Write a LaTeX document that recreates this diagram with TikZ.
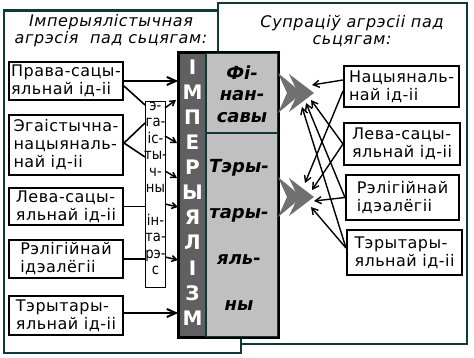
\documentclass[tikz,border=0pt]{standalone}
\usepackage{fontspec}
\setmainfont{DejaVu Sans}
\newfontfamily\boxf[LetterSpace=3]{DejaVu Sans}
\newfontfamily\titf[LetterSpace=4]{DejaVu Sans}
\newfontfamily\ibf[FakeStretch=0.88]{DejaVu Sans}
\usetikzlibrary{arrows.meta,calc}
\definecolor{frm}{RGB}{16,58,58}
\definecolor{darkcol}{RGB}{96,96,96}
\definecolor{lightcol}{RGB}{192,192,192}
\definecolor{chevcol}{RGB}{112,112,112}
\tikzset{
  frameline/.style={draw=frm, line width=2.5pt},
  lbox/.style={draw=black, line width=2pt, fill=white, inner sep=0pt, align=left,
    font=\boxf\fontsize{16pt}{18pt}\selectfont},
  ibox/.style={draw=black, line width=1pt, fill=white, inner sep=0pt},
  ibtext/.style={inner sep=0pt, align=center, font=\ibf\fontsize{15pt}{16.4pt}\selectfont},
  titletext/.style={inner sep=0pt, align=center, font=\titf\itshape\fontsize{16pt}{17pt}\selectfont},
  colletters/.style={inner sep=0pt, align=center, text=white, font=\bfseries\fontsize{20pt}{25.1pt}\selectfont},
  greytext/.style={inner sep=0pt, align=center, font=\bfseries\itshape\fontsize{18pt}{21.5pt}\selectfont},
  greytextlow/.style={inner sep=0pt, align=center, font=\bfseries\itshape\fontsize{18pt}{46pt}\selectfont},
  larr/.style={draw=black, line width=2pt, -{Straight Barb[length=9pt,width=8pt]}},
  lline/.style={draw=black, line width=1.6pt},
  sarr/.style={draw=black, line width=1.5pt, -{Straight Barb[length=5pt,width=6pt]}},
  rarr/.style={draw=black, line width=1.4pt, -{Straight Barb[length=6pt,width=7pt]}},
  chev/.style={fill=chevcol}
}
\begin{document}
\begin{tikzpicture}[x=1pt,y=-1pt]
\useasboundingbox (0,0) rectangle (474,358);
\fill[white] (0,0) rectangle (474,358);
% right frame (white filled)
\draw[frameline, fill=white] (218,3) rectangle (467,344);
% left frame on top near its lower right corner
\fill[white] (216.5,337) rectangle (239.6,345.6);
\draw[frameline] (216.7,10.5) -- (4,10.5) -- (4,353) -- (241,353) -- (241,337);

% titles
\node[titletext] (tleft) at (111,31) {Імперыялістычная\\агрэсія\ \ пад сьцягам:};
\node[titletext] (tright) at (352,31) {Супраціў агрэсіі пад\\сьцягам:};

% left boxes
\node[lbox, minimum width=114pt, minimum height=38pt] (l1) at (66,81) {Права-сацы-\\яльнай ід-ii};
\node[lbox, minimum width=114pt, minimum height=60pt] (l2) at (66,145) {Эгаістычна-\\нацыяналь-\\най ід-ii};
\node[lbox, minimum width=114pt, minimum height=37pt] (l3) at (66,206.5) {Лева-сацы-\\яльнай ід-ii};
\node[lbox, minimum width=114pt, minimum height=38pt] (l4) at (66,259) {Рэлігійнай\\ідэалёгii};
\node[lbox, minimum width=114pt, minimum height=39pt] (l5) at (66,315.5) {Тэрытары-\\яльнай ід-ii};

% right boxes
\node[lbox, minimum width=115pt, minimum height=41pt] (r1) at (401.5,86.5) {Нацыяналь-\\най ід-ii};
\node[lbox, minimum width=116pt, minimum height=42pt] (r2) at (402,144) {Лева-сацы-\\яльнай ід-ii};
\node[lbox, minimum width=113pt, minimum height=45pt] (r3) at (402.5,197.5) {Рэлігійнай\\ідэалёгii};
\node[lbox, minimum width=115pt, minimum height=45pt] (r4) at (404.5,252.5) {Тэрытары-\\яльнай ід-ii};

% interest box
\node[ibox, minimum width=20pt, minimum height=185pt] (ib) at (155,194.5) {};
\node[ibtext] (ibt) at (155.5,188.5) {э-\\га-\\іс-\\ты-\\ч-\\ны\\[16.4pt]ін-\\та-\\рэ-\\с};

% central block
\node[draw=black, line width=1.5pt, fill=darkcol, minimum width=27pt, minimum height=284pt, inner sep=0pt] (imp) at (192.5,195) {};
\node[draw=frm, line width=1.5pt, fill=lightcol, minimum width=72pt, minimum height=80pt, inner sep=0pt] (fin) at (242,93) {};
\node[draw=frm, line width=1.5pt, fill=lightcol, minimum width=72pt, minimum height=204pt, inner sep=0pt] (ter) at (242,235) {};
\draw[black, line width=2pt] (imp.north west) rectangle (ter.south east);
\node[colletters] (impt) at (192.5,192.5) {І\\М\\П\\Е\\Р\\Ы\\Я\\Л\\І\\З\\М};
\node[greytext] (fint) at (242,94) {Фі-\\нан-\\савы};
\node[greytextlow] (tert) at (239,235) {Тэры-\\тары-\\яль-\\ны};

% chevrons
\fill[chev] (278,73) -- (302,93) -- (278,113) -- (287,93) -- cycle;
\fill[chev] (289,74) -- (314,93) -- (289,112) -- (298,93) -- cycle;
\fill[chev] (278,177) -- (302,197) -- (278,217) -- (287,197) -- cycle;
\fill[chev] (289,178) -- (314,197) -- (289,216) -- (298,197) -- cycle;

% coordinates
\coordinate (h1a) at (312,85);
\coordinate (h1b) at (311,100);
\coordinate (h1c) at (306,103);
\coordinate (h1d) at (302,107);
\coordinate (h2a) at (305,183);
\coordinate (h2b) at (312,190);
\coordinate (h2c) at (314,201);
\coordinate (h2d) at (311,207);
\coordinate (ibA) at (145,105);
\coordinate (ibB) at (145,123);
\coordinate (ibC) at (145,157);
\coordinate (ia1) at (165,108); \coordinate (ja1) at (176,100);
\coordinate (ia2) at (165,136); \coordinate (ja2) at (177,143);
\coordinate (ia3) at (165,171); \coordinate (ja3) at (177,178);
\coordinate (ia4) at (165,204); \coordinate (ja4) at (178,207);
\coordinate (ia5) at (165,257); \coordinate (ja5) at (178,260);

% left connectors
\draw[larr] (l1.east) -- (l1.east -| imp.west);
\draw[lline] ([yshift=-5pt]l1.east) -- (ibA);
\draw[lline] ([yshift=2pt]l2.east) -- (ibB);
\draw[lline] ([yshift=2pt]l2.east) -- (ibC);
\draw[lline] (l3.east) -- (ib.west |- l3.east);
\draw[lline] (l4.east) -- (ib.west |- l4.east);
\draw[larr] ([yshift=2.5pt]l5.east) -- ([yshift=2.5pt]l5.east -| imp.west);
\draw[sarr] (ia1) -- (ja1);
\draw[sarr] (ia2) -- (ja2);
\draw[sarr] (ia3) -- (ja3);
\draw[sarr] (ia4) -- (ja4);
\draw[sarr] (ia5) -- (ja5);

% right connectors
\draw[rarr] ([yshift=6.5pt]r1.west) -- (h1a);
\draw[rarr] ([yshift=-4.5pt]r1.west) -- (h2a);
\draw[rarr] (r2.west) -- (h1b);
\draw[rarr] (r2.west) -- (h2b);
\draw[rarr] (r3.west) -- (h1c);
\draw[rarr] (r3.west) -- (h2c);
\draw[rarr] ([yshift=4.5pt]r4.west) -- (h1d);
\draw[rarr] ([yshift=4.5pt]r4.west) -- (h2d);
\end{tikzpicture}
\end{document}
